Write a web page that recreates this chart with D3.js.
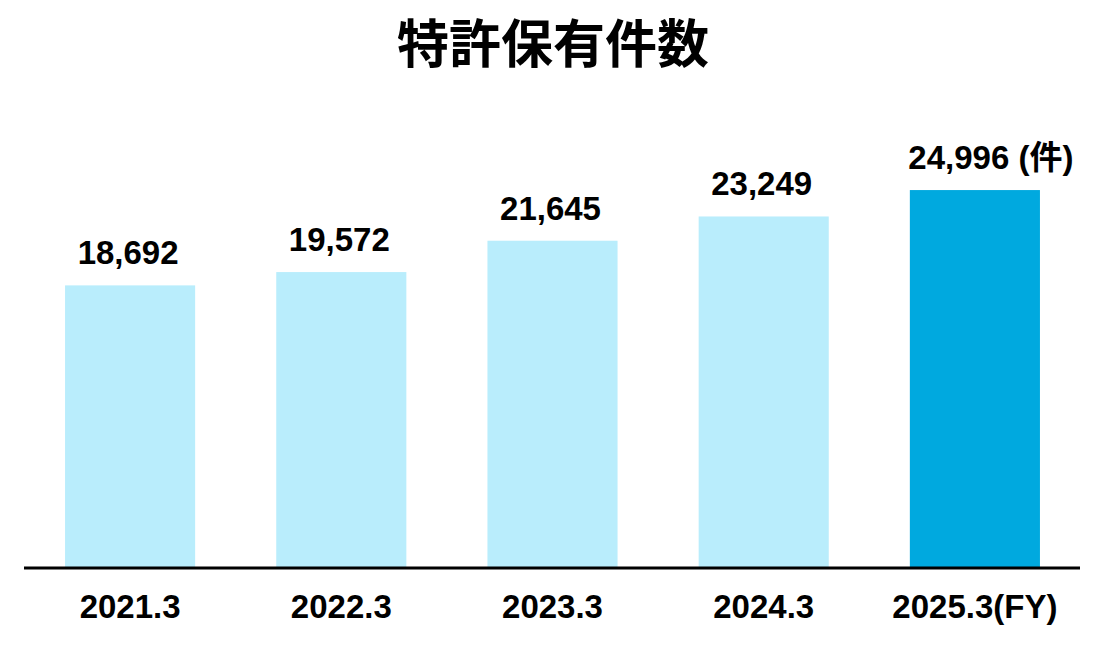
<!DOCTYPE html>
<html><head><meta charset="utf-8">
<script src="https://cdn.jsdelivr.net/npm/d3@7"></script>
<style>body{margin:0;background:#fff;} svg{display:block;}</style>
</head><body>
<svg id="c" width="1105" height="652"></svg>
<script>
const title = "特許保有件数";
const categories = ["2021.3", "2022.3", "2023.3", "2024.3", "2025.3(FY)"];
const values = [18692, 19572, 21645, 23249, 24996];
const unitSuffix = " (件)";
const highlight = [false, false, false, false, true];

const svg = d3.select("#c");
const x = d3.scaleBand().domain(categories).range([24.5, 1080.5]).paddingInner(0.384).paddingOuter(0.192);
const y = d3.scaleLinear().domain([0, 25000]).range([568, 190]);
const fontLatin = "'Liberation Sans', Arial, 'Noto Sans CJK JP', sans-serif";

svg.append("text").attr("x", 553).attr("y", 63).attr("text-anchor", "middle")
  .attr("font-family", "'Noto Sans CJK JP', sans-serif").attr("font-weight", "bold")
  .attr("font-size", 52).attr("fill", "#000").text(title);

svg.selectAll("rect.bar").data(values).join("rect").attr("class", "bar")
  .attr("x", (d, i) => x(categories[i])).attr("width", x.bandwidth())
  .attr("y", d => y(d)).attr("height", d => y(0) - y(d))
  .attr("fill", (d, i) => highlight[i] ? "#00a9df" : "#b9edfc");

svg.selectAll("text.val").data(values).join("text").attr("class", "val")
  .attr("x", (d, i) => x(categories[i]) + x.bandwidth() / 2 + (i === values.length - 1 ? 16 : -2))
  .attr("y", d => y(d) - 21).attr("text-anchor", "middle")
  .attr("font-family", fontLatin).attr("font-weight", "bold").attr("font-size", 33).attr("fill", "#000")
  .text((d, i) => d3.format(",")(d) + (i === values.length - 1 ? unitSuffix : ""));

const axis = d3.axisBottom(x).tickSize(0).tickPadding(0);
const g = svg.append("g").attr("transform", "translate(0,568)").call(axis);
g.select(".domain").attr("stroke", "#000").attr("stroke-width", 3).attr("d", "M24,0H1080");
g.selectAll(".tick text").attr("dy", null).attr("y", 50)
  .attr("font-family", fontLatin).attr("font-weight", "bold").attr("font-size", 33).attr("fill", "#000");
</script>
</body></html>
